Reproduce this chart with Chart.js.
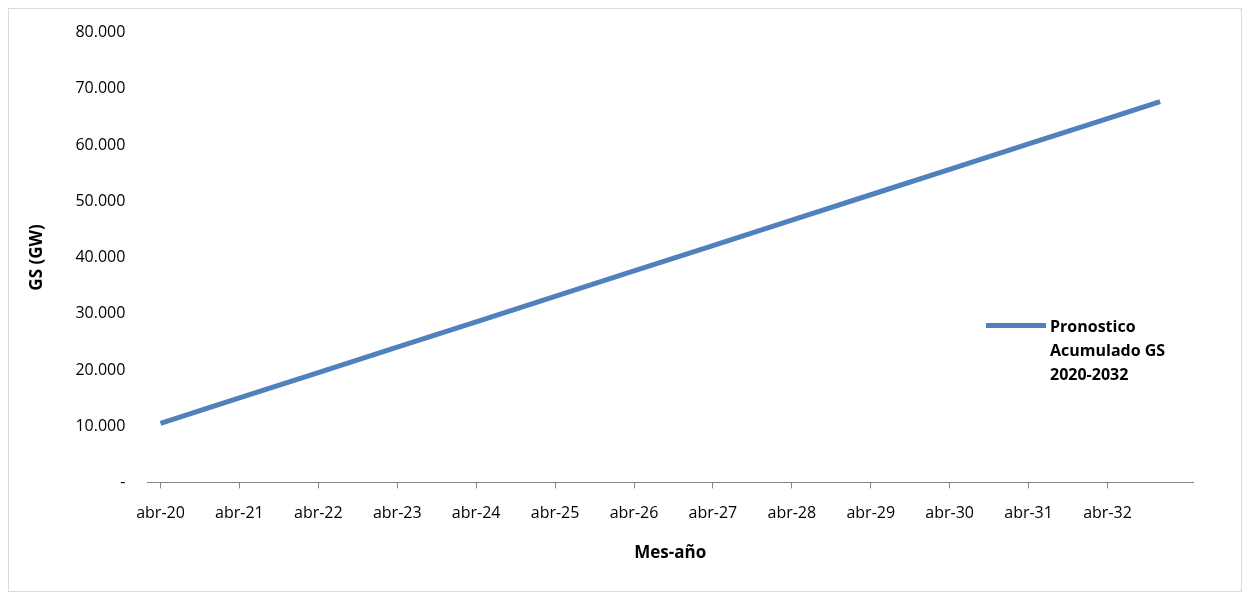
<!DOCTYPE html>
<html><head><meta charset="utf-8">
<script src="https://cdn.jsdelivr.net/npm/chart.js@4"></script>
<style>
body{margin:0;background:#fff;font-family:"Open Sans",sans-serif}
#wrap{position:absolute;left:8px;top:8px;width:1232px;height:582px;border:1px solid #d9d9d9}
#legend{position:absolute;left:977px;top:305px;font-weight:bold;font-size:16px;color:#000;line-height:24px}
#legend .sw{position:absolute;left:0;top:9px;width:60px;height:5px;background:#4f81bd}
#legend .tx{margin-left:64px}
</style></head><body>
<div id="wrap"><canvas id="c"></canvas>
<div id="legend"><div class="sw"></div><div class="tx">Pronostico<br>Acumulado GS<br>2020-2032</div></div></div>
<script>
// months from abr-20
var months = [0, 12, 24, 36, 48, 60, 72, 84, 96, 108, 120, 132, 144, 152];
var values = [10500, 15020, 19540, 24060, 28570, 33090, 37610, 42130, 46650, 51160, 55680, 60200, 64720, 67730];
var tickLabels = ["abr-20","abr-21","abr-22","abr-23","abr-24","abr-25","abr-26","abr-27","abr-28","abr-29","abr-30","abr-31","abr-32"];

var pts = months.map(function(m, i){ return {x: m, y: values[i]}; });
Chart.defaults.font.family = '"Open Sans", sans-serif';
Chart.defaults.color = '#000';
new Chart(document.getElementById('c').getContext('2d'), {
  type: 'line',
  data: { datasets: [{ label: 'Pronostico Acumulado GS 2020-2032', data: pts,
    borderColor: '#4f81bd', borderWidth: 5, pointRadius: 0, tension: 0 }] },
  options: {
    responsive: true, maintainAspectRatio: false, animation: false,
    layout: { padding: { top: 14, right: 48, bottom: 24, left: 14 } },
    plugins: { legend: { display: false }, tooltip: { enabled: false } },
    scales: {
      x: { type: 'linear', min: -2, max: 157,
        afterBuildTicks: function(ax){ ax.ticks = tickLabels.map(function(t, i){ return {value: i * 12}; }); },
        ticks: { autoSkip: false, maxRotation: 0, font: { size: 16 }, padding: 15,
          callback: function(v){ return tickLabels[v / 12]; } },
        grid: { display: true, drawOnChartArea: false, drawTicks: true, tickLength: 6, color: '#868686', offset: false },
        border: { color: '#868686' },
        title: { display: true, text: 'Mes-año', font: { size: 17, weight: 'bold' }, padding: { top: 5 } } },
      y: { min: 0, max: 80000,
        ticks: { stepSize: 10000, font: { size: 16 }, padding: 14,
          callback: function(v){ return v === 0 ? '-' : v.toLocaleString('de-DE', {minimumFractionDigits: 3}).replace(/,000$/, '') ; } },
        grid: { display: false },
        border: { display: false },
        title: { display: true, text: 'GS (GW)', font: { size: 17, weight: 'bold' }, padding: { bottom: 14 } } }
    }
  }
});
</script></body></html>
